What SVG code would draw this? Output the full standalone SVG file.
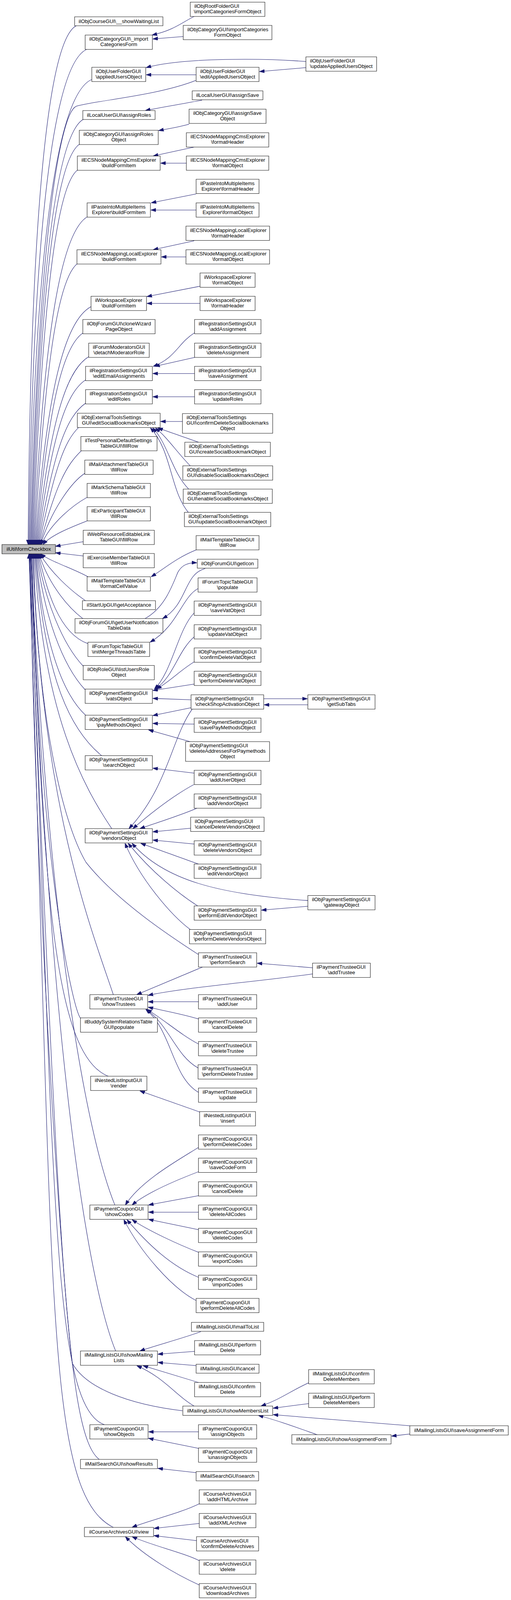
<svg xmlns="http://www.w3.org/2000/svg" width="1308" height="4472" viewBox="0 0 1308 4472">
<style>
rect{fill:#fff;stroke:#000;stroke-width:1}
#n_root rect{fill:#bfbfbf}
text{font-family:"Liberation Sans",Arial,Helvetica,sans-serif;font-size:13.2px;fill:#000}
.s{text-anchor:start}
.m{text-anchor:middle}
#edges path{fill:none;stroke:#191970;stroke-width:1.1;marker-end:url(#arr)}
</style>
<defs>
<marker id="arr" markerUnits="userSpaceOnUse" markerWidth="13" markerHeight="10" refX="13" refY="4.7" orient="auto" viewBox="0 0 13 9.4">
<path d="M0,0 L13,4.7 L0,9.4 Z" fill="#191970" stroke="#191970" stroke-width="1"/>
</marker>
</defs>
<rect x="0" y="0" width="1308" height="4472" style="fill:#fff;stroke:none"/>
<g id="diagram" transform="scale(1,0.915921)">
<g id="edges">
<path d="M195,72 C125,112 78,579 72,1522"/>
<path d="M222,138 C139,178 84,622 74,1522"/>
<path d="M235,222 C148,262 90,677 76,1522"/>
<path d="M501,225 C400,268 250,280 195,297 C150,320 98,700 78,1522"/>
<path d="M214,333 C146,373 100,749 80,1522"/>
<path d="M205,402 C144,442 104,794 82,1522"/>
<path d="M200,474 C145,514 108,841 84,1522"/>
<path d="M225,605 C157,645 112,926 86,1522"/>
<path d="M199,736 C149,776 116,1011 88,1522"/>
<path d="M233,857 C165,897 120,1090 90,1522"/>
<path d="M212,931 C159,971 124,1138 92,1522"/>
<path d="M227,997 C168,1037 128,1180 94,1522"/>
<path d="M219,1062 C167,1100 132,1222 96,1522"/>
<path d="M219,1127 C169,1165 136,1265 98,1522"/>
<path d="M201,1195 C164,1235 140,1309 100,1522"/>
<path d="M208,1260 C170,1300 144,1352 102,1522"/>
<path d="M217,1323 C180,1350 130,1430 104,1522"/>
<path d="M223,1390 C190,1410 130,1460 106,1522"/>
<path d="M223,1456 C190,1470 130,1495 110,1522"/>
<path d="M213,1514 L142,1527"/>
<path d="M213,1554 L142,1545"/>
<path d="M225,1612 C190,1590 130,1570 104,1548"/>
<path d="M219,1679 C180,1650 130,1600 102,1548"/>
<path d="M212,1729 C165,1690 120,1620 100,1548"/>
<path d="M225,1799 C150,1770 120,1650 98,1548"/>
<path d="M213,1862 C160,1800 115,1680 96,1548"/>
<path d="M218,1928 C160,1860 112,1720 94,1548"/>
<path d="M220,2000 C150,1930 108,1760 92,1548"/>
<path d="M260,2112 C180,2040 115,1900 90,1548"/>
<path d="M286,2316 C215,2200 110,2000 88,1548"/>
<path d="M508,2668 C440,2620 300,2520 220,2410 C160,2300 95,2000 86,1548"/>
<path d="M290,2780 C235,2600 105,2250 84,1548"/>
<path d="M206,2846 C185,2815 100,2400 82,1548"/>
<path d="M277,3008 C140,2950 110,2500 80,1548"/>
<path d="M294,3368 C220,3170 125,2600 79,1548"/>
<path d="M296,3776 C230,3600 130,3000 78,1548"/>
<path d="M467,3943 C330,3925 220,3880 185,3810 C160,3600 90,2500 77,1548"/>
<path d="M267,3982 C130,3930 140,3300 76,1548"/>
<path d="M254,4079 C170,4010 150,3500 75,1548"/>
<path d="M290,4269 C110,4170 140,3600 74,1548"/>
<path d="M497,46 C470,60 445,85 389,98"/>
<path d="M469,102 L391,109"/>
<path d="M783,172 C680,163 470,160 374,189"/>
<path d="M783,189 L664,200"/>
<path d="M502,209 L374,209"/>
<path d="M517,280 C470,290 410,300 372,309"/>
<path d="M484,347 C460,355 430,360 406,365"/>
<path d="M497,411 L392,436"/>
<path d="M477,456 L411,456"/>
<path d="M502,542 L387,567"/>
<path d="M502,587 L386,587"/>
<path d="M497,673 L392,698"/>
<path d="M476,718 L413,718"/>
<path d="M512,800 L376,829"/>
<path d="M512,848 L376,848"/>
<path d="M498,930 C455,960 450,1000 392,1024"/>
<path d="M498,999 L396,1024"/>
<path d="M498,1044 L391,1044"/>
<path d="M498,1109 L391,1109"/>
<path d="M467,1178 L411,1178"/>
<path d="M508,1236 L404,1196"/>
<path d="M487,1302 C450,1260 430,1225 398,1196"/>
<path d="M483,1367 C440,1320 430,1240 391,1196"/>
<path d="M482,1432 C435,1370 440,1260 385,1196"/>
<path d="M502,1537 C450,1560 420,1590 387,1612"/>
<path d="M371,1729 C420,1700 440,1640 455,1600 C465,1580 480,1572 504,1573"/>
<path d="M525,1589 C470,1605 480,1690 416,1729"/>
<path d="M507,1645 C465,1670 455,1750 384,1795"/>
<path d="M497,1713 C455,1760 440,1880 395,1926"/>
<path d="M497,1780 C455,1820 445,1890 398,1926"/>
<path d="M497,1850 C460,1875 440,1900 401,1926"/>
<path d="M497,1912 L391,1930"/>
<path d="M489,1956 L391,1952"/>
<path d="M675,1953 L787,1953"/>
<path d="M788,1970 L676,1970"/>
<path d="M489,1978 L391,2000"/>
<path d="M492,1982 C440,2060 430,2200 330,2316"/>
<path d="M497,2024 L391,2022"/>
<path d="M487,2073 L380,2040"/>
<path d="M497,2161 L391,2147"/>
<path d="M496,2193 C450,2220 400,2260 340,2316"/>
<path d="M504,2259 C460,2280 400,2300 358,2316"/>
<path d="M488,2315 L391,2325"/>
<path d="M497,2359 L391,2348"/>
<path d="M508,2415 L360,2357"/>
<path d="M788,2517 C560,2500 420,2460 338,2357"/>
<path d="M788,2533 L669,2544"/>
<path d="M506,2532 C460,2500 390,2440 328,2357"/>
<path d="M487,2598 C440,2560 360,2460 320,2357"/>
<path d="M800,2705 L658,2692"/>
<path d="M800,2722 C650,2745 470,2760 379,2782"/>
<path d="M518,2703 L350,2780"/>
<path d="M508,2800 L379,2800"/>
<path d="M508,2848 C470,2835 420,2825 379,2815"/>
<path d="M508,2918 C460,2890 420,2850 376,2821"/>
<path d="M507,2985 C450,2950 435,2870 375,2821"/>
<path d="M508,3053 C440,3010 440,2880 373,2821"/>
<path d="M511,3108 L358,3049"/>
<path d="M508,3207 C460,3240 360,3300 321,3368"/>
<path d="M508,3275 C460,3295 380,3330 338,3368"/>
<path d="M508,3342 L380,3368"/>
<path d="M508,3388 L380,3388"/>
<path d="M508,3437 L380,3408"/>
<path d="M508,3500 C460,3480 380,3440 338,3409"/>
<path d="M508,3570 C440,3540 380,3480 325,3409"/>
<path d="M502,3635 C440,3600 360,3500 317,3409"/>
<path d="M514,3722 C470,3740 400,3760 358,3776"/>
<path d="M498,3777 L404,3785"/>
<path d="M502,3817 L404,3808"/>
<path d="M508,3864 L366,3817"/>
<path d="M497,3930 C450,3900 420,3850 350,3817"/>
<path d="M790,3865 C740,3890 720,3910 668,3930"/>
<path d="M790,3923 L699,3936"/>
<path d="M1049,3985 L699,3954"/>
<path d="M812,4010 C760,3990 710,3970 661,3956"/>
<path d="M1049,4008 L1002,4014"/>
<path d="M508,4002 L380,4002"/>
<path d="M508,4048 L380,4020"/>
<path d="M502,4116 L404,4104"/>
<path d="M510,4203 C460,4230 380,4250 338,4269"/>
<path d="M510,4258 L394,4272"/>
<path d="M503,4306 L394,4292"/>
<path d="M510,4362 C470,4340 390,4320 338,4295"/>
<path d="M510,4430 C450,4400 370,4350 321,4295"/>
</g>
<g id="n_root"><rect x="5" y="1522" width="137" height="26"/><text class="m" x="73.5" y="1539.5">ilUtil\formCheckbox</text></g>
<g id="n_rootFolder"><rect x="487" y="6" width="191" height="40"/><text class="s" x="497.5" y="22">ilObjRootFolderGUI</text><text class="m" x="582.5" y="37.3">\importCategoriesFormObject</text></g>
<g id="n_waiting"><rect x="191" y="47" width="226" height="25"/><text class="m" x="304" y="64">ilObjCourseGUI\__showWaitingList</text></g>
<g id="n_catImportObj"><rect x="469" y="71" width="227" height="40"/><text class="s" x="479.5" y="87">ilObjCategoryGUI\importCategories</text><text class="m" x="582.5" y="102.3">FormObject</text></g>
<g id="n_catImportForm"><rect x="218" y="98" width="172" height="40"/><text class="s" x="228.5" y="114">ilObjCategoryGUI\_import</text><text class="m" x="304" y="129.3">CategoriesForm</text></g>
<g id="n_updApplied"><rect x="783" y="159" width="181" height="40"/><text class="s" x="793.5" y="175">ilObjUserFolderGUI</text><text class="m" x="873.5" y="190.3">\updateAppliedUsersObject</text></g>
<g id="n_applied"><rect x="235" y="188" width="138" height="40"/><text class="s" x="245.5" y="204">ilObjUserFolderGUI</text><text class="m" x="304" y="219.3">\appliedUsersObject</text></g>
<g id="n_editApplied"><rect x="502" y="188" width="161" height="40"/><text class="s" x="512.5" y="204">ilObjUserFolderGUI</text><text class="m" x="582.5" y="219.3">\editAppliedUsersObject</text></g>
<g id="n_localSave"><rect x="492" y="254" width="181" height="25"/><text class="m" x="582.5" y="271">ilLocalUserGUI\assignSave</text></g>
<g id="n_localRoles"><rect x="212" y="309" width="185" height="25"/><text class="m" x="304.5" y="326">ilLocalUserGUI\assignRoles</text></g>
<g id="n_catSave"><rect x="484" y="305" width="197" height="40"/><text class="s" x="494.5" y="321">ilObjCategoryGUI\assignSave</text><text class="m" x="582.5" y="336.3">Object</text></g>
<g id="n_catRoles"><rect x="203" y="364" width="202" height="40"/><text class="s" x="213.5" y="380">ilObjCategoryGUI\assignRoles</text><text class="m" x="304" y="395.3">Object</text></g>
<g id="n_cmsHeader"><rect x="477" y="371" width="211" height="40"/><text class="s" x="487.5" y="387">ilECSNodeMappingCmsExplorer</text><text class="m" x="582.5" y="402.3">\formatHeader</text></g>
<g id="n_cmsBuild"><rect x="198" y="436" width="212" height="40"/><text class="s" x="208.5" y="452">ilECSNodeMappingCmsExplorer</text><text class="m" x="304" y="467.3">\buildFormItem</text></g>
<g id="n_cmsObject"><rect x="477" y="436" width="211" height="40"/><text class="s" x="487.5" y="452">ilECSNodeMappingCmsExplorer</text><text class="m" x="582.5" y="467.3">\formatObject</text></g>
<g id="n_pasteHeader"><rect x="502" y="501" width="161" height="40"/><text class="s" x="512.5" y="517">ilPasteIntoMultipleItems</text><text class="m" x="582.5" y="532.3">Explorer\formatHeader</text></g>
<g id="n_pasteBuild"><rect x="223" y="567" width="162" height="40"/><text class="s" x="233.5" y="583">ilPasteIntoMultipleItems</text><text class="m" x="304" y="598.3">Explorer\buildFormItem</text></g>
<g id="n_pasteObject"><rect x="502" y="567" width="161" height="40"/><text class="s" x="512.5" y="583">ilPasteIntoMultipleItems</text><text class="m" x="582.5" y="598.3">Explorer\formatObject</text></g>
<g id="n_locHeader"><rect x="476" y="632" width="214" height="40"/><text class="s" x="486.5" y="648">ilECSNodeMappingLocalExplorer</text><text class="m" x="583" y="663.3">\formatHeader</text></g>
<g id="n_locBuild"><rect x="197" y="698" width="215" height="40"/><text class="s" x="207.5" y="714">ilECSNodeMappingLocalExplorer</text><text class="m" x="304.5" y="729.3">\buildFormItem</text></g>
<g id="n_locObject"><rect x="476" y="698" width="214" height="40"/><text class="s" x="486.5" y="714">ilECSNodeMappingLocalExplorer</text><text class="m" x="583" y="729.3">\formatObject</text></g>
<g id="n_wsObject"><rect x="512" y="763" width="141" height="40"/><text class="s" x="522.5" y="779">ilWorkspaceExplorer</text><text class="m" x="582.5" y="794.3">\formatObject</text></g>
<g id="n_wsBuild"><rect x="233" y="828" width="142" height="40"/><text class="s" x="243.5" y="844">ilWorkspaceExplorer</text><text class="m" x="304" y="859.3">\buildFormItem</text></g>
<g id="n_wsHeader"><rect x="512" y="828" width="141" height="40"/><text class="s" x="522.5" y="844">ilWorkspaceExplorer</text><text class="m" x="582.5" y="859.3">\formatHeader</text></g>
<g id="n_clone"><rect x="212" y="893" width="185" height="40"/><text class="s" x="222.5" y="909">ilObjForumGUI\cloneWizard</text><text class="m" x="304.5" y="924.3">PageObject</text></g>
<g id="n_addAssign"><rect x="498" y="893" width="170" height="40"/><text class="s" x="508.5" y="909">ilRegistrationSettingsGUI</text><text class="m" x="583" y="924.3">\addAssignment</text></g>
<g id="n_detach"><rect x="227" y="959" width="155" height="40"/><text class="s" x="237.5" y="975">ilForumModeratorsGUI</text><text class="m" x="304.5" y="990.3">\detachModeratorRole</text></g>
<g id="n_delAssign"><rect x="498" y="959" width="170" height="40"/><text class="s" x="508.5" y="975">ilRegistrationSettingsGUI</text><text class="m" x="583" y="990.3">\deleteAssignment</text></g>
<g id="n_editEmail"><rect x="219" y="1024" width="171" height="40"/><text class="s" x="229.5" y="1040">ilRegistrationSettingsGUI</text><text class="m" x="304.5" y="1055.3">\editEmailAssignments</text></g>
<g id="n_saveAssign"><rect x="498" y="1024" width="170" height="40"/><text class="s" x="508.5" y="1040">ilRegistrationSettingsGUI</text><text class="m" x="583" y="1055.3">\saveAssignment</text></g>
<g id="n_editRoles"><rect x="219" y="1089" width="171" height="40"/><text class="s" x="229.5" y="1105">ilRegistrationSettingsGUI</text><text class="m" x="304.5" y="1120.3">\editRoles</text></g>
<g id="n_updRoles"><rect x="498" y="1089" width="170" height="40"/><text class="s" x="508.5" y="1105">ilRegistrationSettingsGUI</text><text class="m" x="583" y="1120.3">\updateRoles</text></g>
<g id="n_editSocial"><rect x="198" y="1155" width="212" height="40"/><text class="s" x="208.5" y="1171">ilObjExternalToolsSettings</text><text class="m" x="304" y="1186.3">GUI\editSocialBookmarksObject</text></g>
<g id="n_confSocial"><rect x="467" y="1156" width="231" height="55"/><text class="s" x="477.5" y="1172">ilObjExternalToolsSettings</text><text class="m" x="582.5" y="1187.3">GUI\confirmDeleteSocialBookmarks</text><text class="m" x="582.5" y="1202.6">Object</text></g>
<g id="n_testPers"><rect x="207" y="1220" width="195" height="40"/><text class="s" x="217.5" y="1236">ilTestPersonalDefaultSettings</text><text class="m" x="304.5" y="1251.3">TableGUI\fillRow</text></g>
<g id="n_createSocial"><rect x="473" y="1236" width="219" height="40"/><text class="s" x="483.5" y="1252">ilObjExternalToolsSettings</text><text class="m" x="582.5" y="1267.3">GUI\createSocialBookmarkObject</text></g>
<g id="n_mailAtt"><rect x="217" y="1286" width="175" height="40"/><text class="s" x="227.5" y="1302">ilMailAttachmentTableGUI</text><text class="m" x="304.5" y="1317.3">\fillRow</text></g>
<g id="n_disableSocial"><rect x="468" y="1302" width="230" height="40"/><text class="s" x="478.5" y="1318">ilObjExternalToolsSettings</text><text class="m" x="583" y="1333.3">GUI\disableSocialBookmarksObject</text></g>
<g id="n_markSchema"><rect x="223" y="1351" width="162" height="40"/><text class="s" x="233.5" y="1367">ilMarkSchemaTableGUI</text><text class="m" x="304" y="1382.3">\fillRow</text></g>
<g id="n_enableSocial"><rect x="469" y="1367" width="228" height="40"/><text class="s" x="479.5" y="1383">ilObjExternalToolsSettings</text><text class="m" x="583" y="1398.3">GUI\enableSocialBookmarksObject</text></g>
<g id="n_exPart"><rect x="223" y="1416" width="162" height="40"/><text class="s" x="233.5" y="1432">ilExParticipantTableGUI</text><text class="m" x="304" y="1447.3">\fillRow</text></g>
<g id="n_updSocial"><rect x="472" y="1432" width="221" height="40"/><text class="s" x="482.5" y="1448">ilObjExternalToolsSettings</text><text class="m" x="582.5" y="1463.3">GUI\updateSocialBookmarkObject</text></g>
<g id="n_webRes"><rect x="213" y="1482" width="182" height="40"/><text class="s" x="223.5" y="1498">ilWebResourceEditableLink</text><text class="m" x="304" y="1513.3">TableGUI\fillRow</text></g>
<g id="n_mailTplFill"><rect x="502" y="1497" width="161" height="40"/><text class="s" x="512.5" y="1513">ilMailTemplateTableGUI</text><text class="m" x="582.5" y="1528.3">\fillRow</text></g>
<g id="n_exMember"><rect x="213" y="1547" width="182" height="40"/><text class="s" x="223.5" y="1563">ilExerciseMemberTableGUI</text><text class="m" x="304" y="1578.3">\fillRow</text></g>
<g id="n_getIcon"><rect x="505" y="1563" width="155" height="25"/><text class="m" x="582.5" y="1580">ilObjForumGUI\getIcon</text></g>
<g id="n_formatCell"><rect x="223" y="1612" width="162" height="40"/><text class="s" x="233.5" y="1628">ilMailTemplateTableGUI</text><text class="m" x="304" y="1643.3">\formatCellValue</text></g>
<g id="n_topicPopulate"><rect x="507" y="1615" width="151" height="40"/><text class="s" x="517.5" y="1631">ilForumTopicTableGUI</text><text class="m" x="582.5" y="1646.3">\populate</text></g>
<g id="n_acceptance"><rect x="211" y="1679" width="187" height="25"/><text class="m" x="304.5" y="1696">ilStartUpGUI\getAcceptance</text></g>
<g id="n_saveVat"><rect x="497" y="1680" width="171" height="40"/><text class="s" x="507.5" y="1696">ilObjPaymentSettingsGUI</text><text class="m" x="582.5" y="1711.3">\saveVatObject</text></g>
<g id="n_userNotif"><rect x="192" y="1729" width="225" height="40"/><text class="s" x="202.5" y="1745">ilObjForumGUI\getUserNotification</text><text class="m" x="304.5" y="1760.3">TableData</text></g>
<g id="n_updVat"><rect x="497" y="1746" width="171" height="40"/><text class="s" x="507.5" y="1762">ilObjPaymentSettingsGUI</text><text class="m" x="582.5" y="1777.3">\updateVatObject</text></g>
<g id="n_mergeThreads"><rect x="225" y="1795" width="158" height="40"/><text class="s" x="235.5" y="1811">ilForumTopicTableGUI</text><text class="m" x="304" y="1826.3">\initMergeThreadsTable</text></g>
<g id="n_confVat"><rect x="497" y="1811" width="171" height="40"/><text class="s" x="507.5" y="1827">ilObjPaymentSettingsGUI</text><text class="m" x="582.5" y="1842.3">\confirmDeleteVatObject</text></g>
<g id="n_listUsersRole"><rect x="213" y="1860" width="182" height="40"/><text class="s" x="223.5" y="1876">ilObjRoleGUI\listUsersRole</text><text class="m" x="304" y="1891.3">Object</text></g>
<g id="n_perfDelVat"><rect x="497" y="1876" width="171" height="40"/><text class="s" x="507.5" y="1892">ilObjPaymentSettingsGUI</text><text class="m" x="582.5" y="1907.3">\performDeleteVatObject</text></g>
<g id="n_vats"><rect x="218" y="1926" width="172" height="40"/><text class="s" x="228.5" y="1942">ilObjPaymentSettingsGUI</text><text class="m" x="304" y="1957.3">\vatsObject</text></g>
<g id="n_checkShop"><rect x="489" y="1942" width="186" height="40"/><text class="s" x="499.5" y="1958">ilObjPaymentSettingsGUI</text><text class="m" x="582" y="1973.3">\checkShopActivationObject</text></g>
<g id="n_subTabs"><rect x="788" y="1942" width="172" height="40"/><text class="s" x="798.5" y="1958">ilObjPaymentSettingsGUI</text><text class="m" x="874" y="1973.3">\getSubTabs</text></g>
<g id="n_payMethods"><rect x="218" y="1999" width="172" height="40"/><text class="s" x="228.5" y="2015">ilObjPaymentSettingsGUI</text><text class="m" x="304" y="2030.3">\payMethodsObject</text></g>
<g id="n_savePay"><rect x="497" y="2007" width="171" height="40"/><text class="s" x="507.5" y="2023">ilObjPaymentSettingsGUI</text><text class="m" x="582.5" y="2038.3">\savePayMethodsObject</text></g>
<g id="n_delAddr"><rect x="475" y="2073" width="215" height="55"/><text class="s" x="485.5" y="2089">ilObjPaymentSettingsGUI</text><text class="m" x="582.5" y="2104.3">\deleteAddressesForPaymethods</text><text class="m" x="582.5" y="2119.6">Object</text></g>
<g id="n_search"><rect x="218" y="2112" width="172" height="40"/><text class="s" x="228.5" y="2128">ilObjPaymentSettingsGUI</text><text class="m" x="304" y="2143.3">\searchObject</text></g>
<g id="n_addUserObj"><rect x="497" y="2153" width="171" height="40"/><text class="s" x="507.5" y="2169">ilObjPaymentSettingsGUI</text><text class="m" x="582.5" y="2184.3">\addUserObject</text></g>
<g id="n_addVendor"><rect x="497" y="2219" width="171" height="40"/><text class="s" x="507.5" y="2235">ilObjPaymentSettingsGUI</text><text class="m" x="582.5" y="2250.3">\addVendorObject</text></g>
<g id="n_cancelDelVendors"><rect x="488" y="2284" width="188" height="40"/><text class="s" x="498.5" y="2300">ilObjPaymentSettingsGUI</text><text class="m" x="582" y="2315.3">\cancelDeleteVendorsObject</text></g>
<g id="n_vendors"><rect x="218" y="2316" width="172" height="40"/><text class="s" x="228.5" y="2332">ilObjPaymentSettingsGUI</text><text class="m" x="304" y="2347.3">\vendorsObject</text></g>
<g id="n_delVendors"><rect x="497" y="2350" width="171" height="40"/><text class="s" x="507.5" y="2366">ilObjPaymentSettingsGUI</text><text class="m" x="582.5" y="2381.3">\deleteVendorsObject</text></g>
<g id="n_editVendor"><rect x="497" y="2415" width="171" height="40"/><text class="s" x="507.5" y="2431">ilObjPaymentSettingsGUI</text><text class="m" x="582.5" y="2446.3">\editVendorObject</text></g>
<g id="n_gateway"><rect x="788" y="2503" width="172" height="40"/><text class="s" x="798.5" y="2519">ilObjPaymentSettingsGUI</text><text class="m" x="874" y="2534.3">\gatewayObject</text></g>
<g id="n_perfEditVendor"><rect x="497" y="2532" width="171" height="40"/><text class="s" x="507.5" y="2548">ilObjPaymentSettingsGUI</text><text class="m" x="582.5" y="2563.3">\performEditVendorObject</text></g>
<g id="n_perfDelVendors"><rect x="485" y="2598" width="195" height="40"/><text class="s" x="495.5" y="2614">ilObjPaymentSettingsGUI</text><text class="m" x="582.5" y="2629.3">\performDeleteVendorsObject</text></g>
<g id="n_perfSearch"><rect x="508" y="2663" width="149" height="40"/><text class="s" x="518.5" y="2679">ilPaymentTrusteeGUI</text><text class="m" x="582.5" y="2694.3">\performSearch</text></g>
<g id="n_addTrustee"><rect x="800" y="2692" width="148" height="40"/><text class="s" x="810.5" y="2708">ilPaymentTrusteeGUI</text><text class="m" x="874" y="2723.3">\addTrustee</text></g>
<g id="n_showTrustees"><rect x="230" y="2780" width="148" height="40"/><text class="s" x="240.5" y="2796">ilPaymentTrusteeGUI</text><text class="m" x="304" y="2811.3">\showTrustees</text></g>
<g id="n_addUserTr"><rect x="508" y="2780" width="149" height="40"/><text class="s" x="518.5" y="2796">ilPaymentTrusteeGUI</text><text class="m" x="582.5" y="2811.3">\addUser</text></g>
<g id="n_buddy"><rect x="206" y="2845" width="197" height="40"/><text class="s" x="216.5" y="2861">ilBuddySystemRelationsTable</text><text class="m" x="304.5" y="2876.3">GUI\populate</text></g>
<g id="n_cancelDelTr"><rect x="508" y="2845" width="149" height="40"/><text class="s" x="518.5" y="2861">ilPaymentTrusteeGUI</text><text class="m" x="582.5" y="2876.3">\cancelDelete</text></g>
<g id="n_delTrustee"><rect x="508" y="2911" width="149" height="40"/><text class="s" x="518.5" y="2927">ilPaymentTrusteeGUI</text><text class="m" x="582.5" y="2942.3">\deleteTrustee</text></g>
<g id="n_perfDelTrustee"><rect x="507" y="2976" width="151" height="40"/><text class="s" x="517.5" y="2992">ilPaymentTrusteeGUI</text><text class="m" x="582.5" y="3007.3">\performDeleteTrustee</text></g>
<g id="n_render"><rect x="232" y="3008" width="144" height="40"/><text class="s" x="242.5" y="3024">ilNestedListInputGUI</text><text class="m" x="304" y="3039.3">\render</text></g>
<g id="n_updTrustee"><rect x="508" y="3041" width="149" height="40"/><text class="s" x="518.5" y="3057">ilPaymentTrusteeGUI</text><text class="m" x="582.5" y="3072.3">\update</text></g>
<g id="n_insert"><rect x="511" y="3107" width="143" height="40"/><text class="s" x="521.5" y="3123">ilNestedListInputGUI</text><text class="m" x="582.5" y="3138.3">\insert</text></g>
<g id="n_perfDelCodes"><rect x="508" y="3172" width="149" height="40"/><text class="s" x="518.5" y="3188">ilPaymentCouponGUI</text><text class="m" x="582.5" y="3203.3">\performDeleteCodes</text></g>
<g id="n_saveCode"><rect x="508" y="3237" width="149" height="40"/><text class="s" x="518.5" y="3253">ilPaymentCouponGUI</text><text class="m" x="582.5" y="3268.3">\saveCodeForm</text></g>
<g id="n_cancelDelCp"><rect x="508" y="3303" width="149" height="40"/><text class="s" x="518.5" y="3319">ilPaymentCouponGUI</text><text class="m" x="582.5" y="3334.3">\cancelDelete</text></g>
<g id="n_showCodes"><rect x="230" y="3368" width="149" height="40"/><text class="s" x="240.5" y="3384">ilPaymentCouponGUI</text><text class="m" x="304.5" y="3399.3">\showCodes</text></g>
<g id="n_delAllCodes"><rect x="508" y="3368" width="149" height="40"/><text class="s" x="518.5" y="3384">ilPaymentCouponGUI</text><text class="m" x="582.5" y="3399.3">\deleteAllCodes</text></g>
<g id="n_delCodes"><rect x="508" y="3433" width="149" height="40"/><text class="s" x="518.5" y="3449">ilPaymentCouponGUI</text><text class="m" x="582.5" y="3464.3">\deleteCodes</text></g>
<g id="n_exportCodes"><rect x="508" y="3499" width="149" height="40"/><text class="s" x="518.5" y="3515">ilPaymentCouponGUI</text><text class="m" x="582.5" y="3530.3">\exportCodes</text></g>
<g id="n_importCodes"><rect x="508" y="3564" width="149" height="40"/><text class="s" x="518.5" y="3580">ilPaymentCouponGUI</text><text class="m" x="582.5" y="3595.3">\importCodes</text></g>
<g id="n_perfDelAllCodes"><rect x="502" y="3629" width="161" height="40"/><text class="s" x="512.5" y="3645">ilPaymentCouponGUI</text><text class="m" x="582.5" y="3660.3">\performDeleteAllCodes</text></g>
<g id="n_mailToList"><rect x="490" y="3696" width="185" height="25"/><text class="m" x="582.5" y="3713">ilMailingListsGUI\mailToList</text></g>
<g id="n_mlPerfDelete"><rect x="498" y="3747" width="169" height="40"/><text class="s" x="508.5" y="3763">ilMailingListsGUI\perform</text><text class="m" x="582.5" y="3778.3">Delete</text></g>
<g id="n_showMailing"><rect x="206" y="3776" width="197" height="40"/><text class="s" x="216.5" y="3792">ilMailingListsGUI\showMailing</text><text class="m" x="304.5" y="3807.3">Lists</text></g>
<g id="n_mlCancel"><rect x="502" y="3813" width="161" height="25"/><text class="m" x="582.5" y="3830">ilMailingListsGUI\cancel</text></g>
<g id="n_confDelMembers"><rect x="790" y="3828" width="168" height="40"/><text class="s" x="800.5" y="3844">ilMailingListsGUI\confirm</text><text class="m" x="874" y="3859.3">DeleteMembers</text></g>
<g id="n_mlConfDel"><rect x="498" y="3864" width="169" height="40"/><text class="s" x="508.5" y="3880">ilMailingListsGUI\confirm</text><text class="m" x="582.5" y="3895.3">Delete</text></g>
<g id="n_perfDelMembers"><rect x="790" y="3894" width="168" height="40"/><text class="s" x="800.5" y="3910">ilMailingListsGUI\perform</text><text class="m" x="874" y="3925.3">DeleteMembers</text></g>
<g id="n_showMembers"><rect x="468" y="3930" width="230" height="26"/><text class="m" x="583" y="3947.5">ilMailingListsGUI\showMembersList</text></g>
<g id="n_showObjects"><rect x="230" y="3982" width="149" height="40"/><text class="s" x="240.5" y="3998">ilPaymentCouponGUI</text><text class="m" x="304.5" y="4013.3">\showObjects</text></g>
<g id="n_assignObjects"><rect x="508" y="3982" width="149" height="40"/><text class="s" x="518.5" y="3998">ilPaymentCouponGUI</text><text class="m" x="582.5" y="4013.3">\assignObjects</text></g>
<g id="n_saveAssignForm"><rect x="1049" y="3985" width="252" height="26"/><text class="m" x="1175" y="4002.5">ilMailingListsGUI\saveAssignmentForm</text></g>
<g id="n_showAssignForm"><rect x="747" y="4010" width="254" height="26"/><text class="m" x="874" y="4027.5">ilMailingListsGUI\showAssignmentForm</text></g>
<g id="n_unassign"><rect x="508" y="4047" width="149" height="40"/><text class="s" x="518.5" y="4063">ilPaymentCouponGUI</text><text class="m" x="582.5" y="4078.3">\unassignObjects</text></g>
<g id="n_showResults"><rect x="206" y="4079" width="197" height="26"/><text class="m" x="304.5" y="4096.5">ilMailSearchGUI\showResults</text></g>
<g id="n_mailSearch"><rect x="502" y="4113" width="160" height="26"/><text class="m" x="582" y="4130.5">ilMailSearchGUI\search</text></g>
<g id="n_addHTML"><rect x="510" y="4164" width="145" height="40"/><text class="s" x="520.5" y="4180">ilCourseArchivesGUI</text><text class="m" x="582.5" y="4195.3">\addHTMLArchive</text></g>
<g id="n_addXML"><rect x="510" y="4230" width="145" height="40"/><text class="s" x="520.5" y="4246">ilCourseArchivesGUI</text><text class="m" x="582.5" y="4261.3">\addXMLArchive</text></g>
<g id="n_view"><rect x="216" y="4269" width="177" height="26"/><text class="m" x="304.5" y="4286.5">ilCourseArchivesGUI\view</text></g>
<g id="n_confDelArch"><rect x="503" y="4295" width="159" height="40"/><text class="s" x="513.5" y="4311">ilCourseArchivesGUI</text><text class="m" x="582.5" y="4326.3">\confirmDeleteArchives</text></g>
<g id="n_delArch"><rect x="510" y="4360" width="145" height="40"/><text class="s" x="520.5" y="4376">ilCourseArchivesGUI</text><text class="m" x="582.5" y="4391.3">\delete</text></g>
<g id="n_download"><rect x="510" y="4426" width="145" height="40"/><text class="s" x="520.5" y="4442">ilCourseArchivesGUI</text><text class="m" x="582.5" y="4457.3">\downloadArchives</text></g>
</g>
</svg>
